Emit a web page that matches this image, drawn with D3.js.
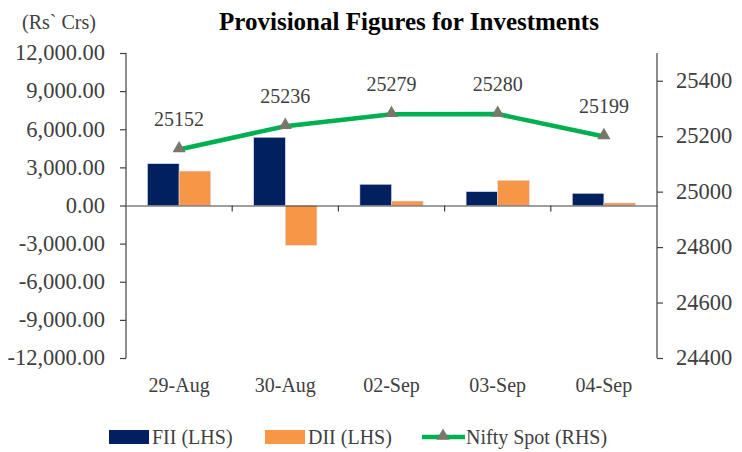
<!DOCTYPE html>
<html>
<head>
<meta charset="utf-8">
<script src="https://cdn.jsdelivr.net/npm/d3@7"></script>
<style>
  body { margin: 0; background: #fff; }
  text { font-family: "Liberation Serif", "Times New Roman", serif; fill: #404040; }
</style>
</head>
<body>
<div id="chart-area"></div>
<script>
// chart data
let dates  = ["29-Aug", "30-Aug", "02-Sep", "03-Sep", "04-Sep"];
let fii    = [3290, 5370, 1670, 1090, 960];
let dii    = [2710, -3130, 350, 1980, 200];
let nifty  = [25152, 25236, 25279, 25280, 25199];
let leftTicks  = [-12000, -9000, -6000, -3000, 0, 3000, 6000, 9000, 12000];
let rightTicks = [24400, 24600, 24800, 25000, 25200, 25400];

let width  = 742,
	height = 452;

let plotLeft = 126, plotRight = 657, plotTop = 53, plotBottom = 358;

let svg = d3.select("#chart-area")
	.append("svg")
	.attr("width", width)
	.attr("height", height);

// scales
let x = d3.scaleBand()
	.domain(dates)
	.range([plotLeft, plotRight]);

let xInner = d3.scaleBand()
	.domain(["FII", "DII"])
	.range([0, x.bandwidth()])
	.paddingInner(0)
	.paddingOuter(0.68);

let yLeft = d3.scaleLinear()
	.domain([-12000, 12000])
	.range([plotBottom, plotTop]);

let yRight = d3.scaleLinear()
	.domain([24400, 25500])
	.range([plotBottom, plotTop]);

let colors = { FII: "#002060", DII: "#f79646" };

// bars
let rows = dates.map((d, i) => ({ date: d, FII: fii[i], DII: dii[i] }));

let groups = svg.selectAll("g.group")
	.data(rows)
	.enter()
	.append("g")
	.attr("class", "group")
	.attr("transform", d => "translate(" + x(d.date) + ",0)");

groups.selectAll("rect")
	.data(d => ["FII", "DII"].map(k => ({ key: k, value: d[k] })))
	.enter()
	.append("rect")
	.attr("x", d => xInner(d.key))
	.attr("width", xInner.bandwidth())
	.attr("y", d => yLeft(Math.max(0, d.value)))
	.attr("height", d => Math.abs(yLeft(d.value) - yLeft(0)))
	.attr("fill", d => colors[d.key])
	.attr("stroke", "#d9dcee")
	.attr("stroke-width", 0.6);

// left axis
let fmt = d3.format(",.2f");
let yAxisL = d3.axisLeft(yLeft)
	.tickValues(leftTicks)
	.tickSize(6)
	.tickFormat(d => fmt(d).replace("\u2212", "-"));

let gL = svg.append("g")
	.attr("transform", "translate(" + plotLeft + ",0)")
	.call(yAxisL);
gL.select(".domain").attr("d", "M0," + plotTop + "V" + plotBottom);

// right axis
let yAxisR = d3.axisRight(yRight)
	.tickValues(rightTicks)
	.tickSize(6)
	.tickFormat(d3.format("d"));

let gR = svg.append("g")
	.attr("transform", "translate(" + plotRight + ",0)")
	.call(yAxisR);
gR.select(".domain").attr("d", "M0," + plotTop + "V" + plotBottom);

// x axis at zero
let xAxis = d3.axisBottom(x)
	.tickValues([])
	.tickSizeOuter(0);

let gX = svg.append("g")
	.attr("transform", "translate(0," + yLeft(0) + ")")
	.call(xAxis);

gX.selectAll(".sep")
	.data(dates.slice(1))
	.enter()
	.append("line")
	.attr("class", "sep")
	.attr("x1", d => x(d))
	.attr("x2", d => x(d))
	.attr("y1", 0)
	.attr("y2", 6)
	.attr("stroke", "#404040")
	.attr("stroke-width", 1.2);

[gL, gR, gX].forEach(g => {
	g.selectAll(".domain").attr("stroke", "#404040").attr("stroke-width", 1.2);
	g.selectAll(".tick line").attr("stroke", "#404040").attr("stroke-width", 1.2);
	g.selectAll(".tick text")
		.style("font-family", "Liberation Serif")
		.style("font-size", "22.5px")
		.attr("fill", "#404040");
});
gL.selectAll(".tick text").attr("x", -21).attr("dy", "0.3em");
gR.selectAll(".tick text").attr("x", 19).attr("dy", "0.3em");

// category labels
svg.selectAll("text.cat")
	.data(dates)
	.enter()
	.append("text")
	.attr("class", "cat")
	.attr("x", d => x(d) + x.bandwidth() / 2)
	.attr("y", 392)
	.style("font-size", "20px")
	.style("text-anchor", "middle")
	.text(d => d);

// nifty line
let cx = (d, i) => x(dates[i]) + x.bandwidth() / 2;

let line = d3.line()
	.x((d, i) => cx(d, i))
	.y(d => yRight(d));

svg.append("path")
	.datum(nifty)
	.attr("d", line)
	.attr("fill", "none")
	.attr("stroke", "#00b050")
	.attr("stroke-width", 4.5);

let tri = d3.symbol().type(d3.symbolTriangle).size(75);

svg.selectAll("path.marker")
	.data(nifty)
	.enter()
	.append("path")
	.attr("class", "marker")
	.attr("d", tri)
	.attr("transform", (d, i) => "translate(" + cx(d, i) + "," + (yRight(d) - 1) + ")")
	.attr("fill", "#77776a");

svg.selectAll("text.val")
	.data(nifty)
	.enter()
	.append("text")
	.attr("class", "val")
	.attr("x", (d, i) => cx(d, i))
	.attr("y", d => yRight(d) - 23)
	.style("font-size", "20px")
	.style("text-anchor", "middle")
	.text(d => d);

// titles
svg.append("text")
	.text("Provisional Figures for Investments")
	.attr("x", 409)
	.attr("y", 30)
	.style("font-size", "25px")
	.style("font-weight", "bold")
	.style("text-anchor", "middle")
	.style("fill", "#000");

svg.append("text")
	.text("(Rs` Crs)")
	.attr("x", 22)
	.attr("y", 29)
	.style("font-size", "20px");

// legend
let legend = svg.append("g");

legend.append("rect").attr("x", 109).attr("y", 430).attr("width", 40).attr("height", 14).attr("fill", colors.FII);
legend.append("text").attr("x", 152).attr("y", 444).style("font-size", "20px").text("FII (LHS)");

legend.append("rect").attr("x", 265).attr("y", 430).attr("width", 40).attr("height", 14).attr("fill", colors.DII);
legend.append("text").attr("x", 308).attr("y", 444).style("font-size", "20px").text("DII (LHS)");

legend.append("line").attr("x1", 422).attr("x2", 465).attr("y1", 437).attr("y2", 437)
	.attr("stroke", "#00b050").attr("stroke-width", 4.5);
legend.append("path").attr("d", tri).attr("transform", "translate(443,436)").attr("fill", "#77776a");
legend.append("text").attr("x", 466).attr("y", 444).style("font-size", "20px").text("Nifty Spot (RHS)");
</script>
</body>
</html>
